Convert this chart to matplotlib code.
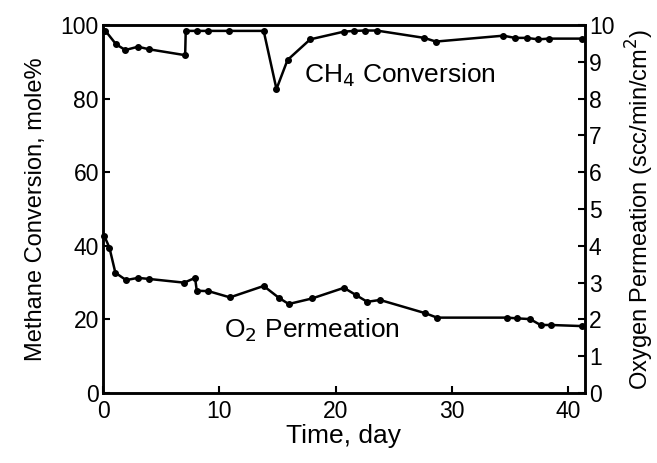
import matplotlib
matplotlib.use("Agg")
import matplotlib.pyplot as plt

plt.rcParams['font.family'] = ['Liberation Sans', 'DejaVu Sans']

# CH4 conversion, mole% (left axis)
ch4_day = [0.2, 1.1, 1.9, 3.0, 3.95, 7.05, 7.1, 8.1, 9.0, 10.8, 13.8, 14.9, 15.85,
           17.8, 20.7, 21.6, 22.5, 23.5, 27.6, 28.6, 34.4, 35.4, 36.4, 37.4, 38.3, 41.2]
ch4_conv = [98.4, 94.8, 93.2, 94.1, 93.4, 91.8, 98.4, 98.4, 98.4, 98.4, 98.4, 82.6, 90.5,
            96.1, 98.2, 98.4, 98.5, 98.5, 96.5, 95.5, 97.1, 96.5, 96.5, 96.1, 96.3, 96.3]

# O2 permeation, scc/min/cm2 (right axis)
o2_day = [0.1, 0.54, 1.05, 1.97, 3.0, 3.97, 6.97, 7.9, 8.05, 9.05, 10.9, 13.8, 15.1,
          15.95, 17.95, 20.7, 21.7, 22.7, 23.8, 27.7, 28.7, 34.7, 35.6, 36.7, 37.6, 38.5, 41.2]
o2_perm = [4.27, 3.95, 3.27, 3.07, 3.13, 3.10, 3.0, 3.13, 2.78, 2.77, 2.6, 2.91, 2.59,
           2.42, 2.57, 2.86, 2.67, 2.48, 2.53, 2.17, 2.05, 2.05, 2.03, 2.01, 1.85, 1.85, 1.82]

fig = plt.figure(figsize=(6.57, 4.63), dpi=100)
ax = fig.add_axes([0.157, 0.151, 0.733, 0.795])
ax2 = ax.twinx()

ax.plot(ch4_day, ch4_conv, color="black", lw=1.8, marker="o", ms=4, clip_on=False)
ax2.plot(o2_day, o2_perm, color="black", lw=1.8, marker="o", ms=4, clip_on=False)

ax.set_xlim(0, 41.4)
ax.set_ylim(0, 100)
ax2.set_ylim(0, 10)
ax.set_xticks([0, 10, 20, 30, 40])
ax.set_yticks([0, 20, 40, 60, 80, 100])
ax2.set_yticks(range(0, 11))

for a in (ax, ax2):
    for s in a.spines.values():
        s.set_linewidth(1.8)
ax.tick_params(direction="in", length=5, width=1.5, labelsize=16.5, pad=3, top=False)
ax.tick_params(axis="x", pad=5)
ax2.tick_params(direction="in", length=5, width=1.5, labelsize=16.5, pad=3)

ax.set_xlabel("Time, day", fontsize=19, labelpad=1)
ax.set_ylabel("Methane Conversion, mole%", fontsize=17, labelpad=10)
ax2.set_ylabel("Oxygen Permeation (scc/min/cm$^2$)", fontsize=17, labelpad=7)

ax.text(17.3, 86.4, "CH$_4$ Conversion", fontsize=19, va="center")
ax.text(10.4, 17.0, "O$_2$ Permeation", fontsize=19, va="center")

fig.savefig("out.png", dpi=100)
